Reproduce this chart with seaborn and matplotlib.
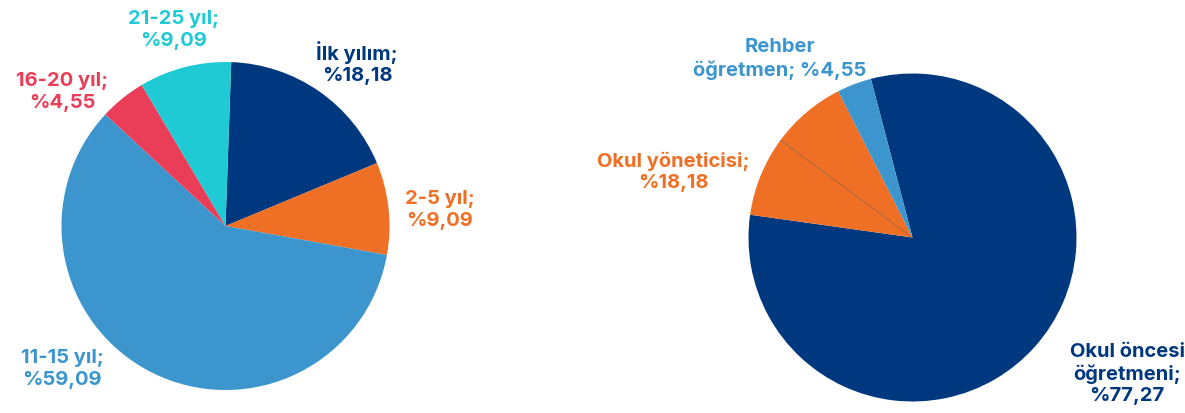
import numpy as np
import matplotlib
matplotlib.use("Agg")
import matplotlib.pyplot as plt
import seaborn as sns

# left pie: years of service
exp_labels = ["İlk yılım", "2-5 yıl", "11-15 yıl", "16-20 yıl", "21-25 yıl"]
exp_values = [18.18, 9.09, 59.09, 4.55, 9.09]
exp_texts = ["%18,18", "%9,09", "%59,09", "%4,55", "%9,09"]

# right pie: role (wedge sizes as drawn, labels as printed)
role_labels = ["Okul öncesi\nöğretmeni", "Okul yöneticisi", "Okul yöneticisi", "Rehber\nöğretmen"]
role_values = [81.3, 7.9, 7.4, 3.4]
role_texts = ["%77,27", "%18,18", "", "%4,55"]

NAVY = "#00387f"
ORANGE = "#ef6f24"
LBLUE = "#3c96cd"
RED = "#ea3d58"
CYAN = "#1fcad5"

sns.set_theme(style="white")
plt.rcParams["font.family"] = ["Inter", "DejaVu Sans"]

W, H = 1185, 413
fig = plt.figure(figsize=(W / 100, H / 100), dpi=100)


def pie_axes(cx, cy, r):
    ax = fig.add_axes([(cx - r) / W, (H - cy - r) / H, 2 * r / W, 2 * r / H])
    ax.set_xlim(-1, 1)
    ax.set_ylim(-1, 1)
    ax.axis("off")
    return ax


def label(x, y, txt, color):
    fig.text(x / W, 1 - y / H, txt, ha="center", va="center", color=color,
             fontsize=14.5, fontweight="bold", linespacing=1.25)


# left pie
ax1 = pie_axes(225.5, 226, 164)
ax1.pie(exp_values, colors=[NAVY, ORANGE, LBLUE, RED, CYAN], startangle=88,
        counterclock=False, radius=1, wedgeprops=dict(linewidth=0))
ax1.set_xlim(-1, 1)
ax1.set_ylim(-1, 1)

label(357, 63, f"{exp_labels[0]};\n{exp_texts[0]}", NAVY)
label(440, 210, f"{exp_labels[1]};\n{exp_texts[1]}", ORANGE)
label(62, 369, f"{exp_labels[2]};\n{exp_texts[2]}", LBLUE)
label(62, 92, f"{exp_labels[3]};\n{exp_texts[3]}", RED)
label(174, 30, f"{exp_labels[4]};\n{exp_texts[4]}", CYAN)

# right pie
ax2 = pie_axes(912.5, 237.5, 164)
wedges, _ = ax2.pie(role_values, colors=[NAVY, ORANGE, ORANGE, LBLUE], startangle=104.7,
                    counterclock=False, radius=1, wedgeprops=dict(linewidth=0))
ax2.set_xlim(-1, 1)
ax2.set_ylim(-1, 1)
# thin seam between the two orange pieces
t = np.deg2rad(wedges[1].theta1)
ax2.plot([0, np.cos(t)], [0, np.sin(t)], color="#8c5a3c", lw=0.5)

label(780, 59, "Rehber\nöğretmen; " + role_texts[3], LBLUE)
label(673, 172, f"{role_labels[1]};\n{role_texts[1]}", ORANGE)
label(1127, 374, "Okul öncesi\nöğretmeni;\n" + role_texts[0], NAVY)

fig.savefig("out.png", dpi=100)
